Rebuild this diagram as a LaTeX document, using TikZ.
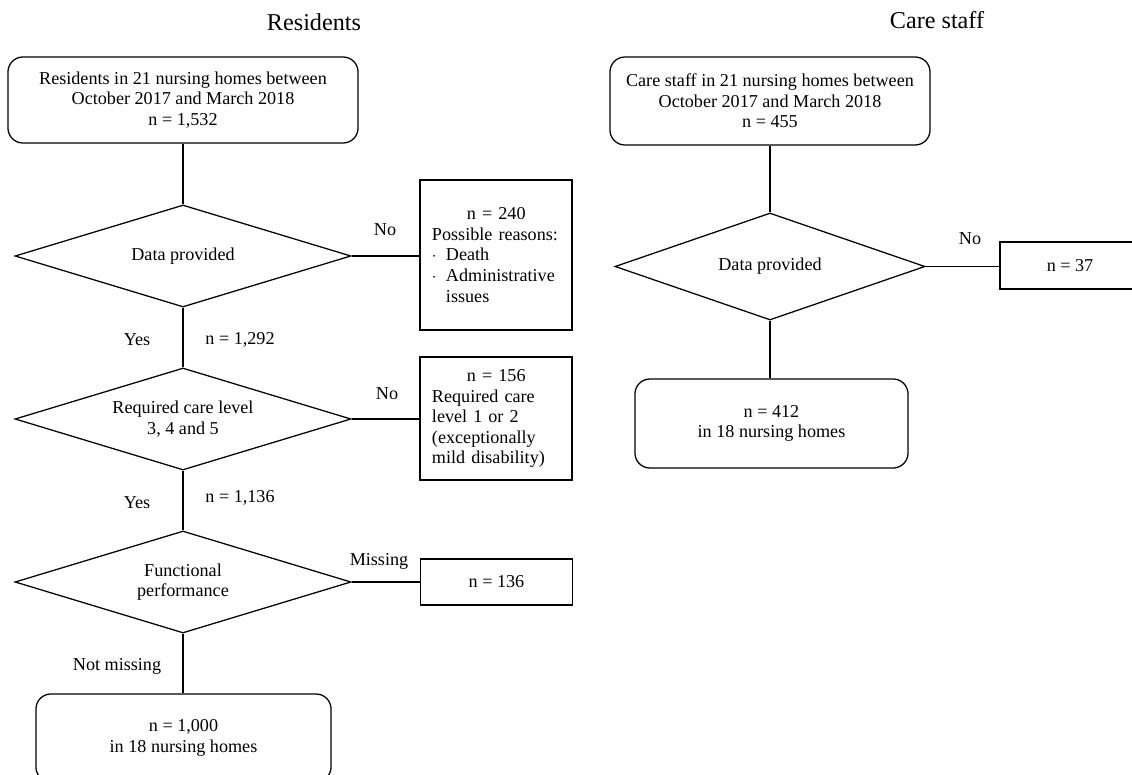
\documentclass[tikz,border=0pt]{standalone}
\usepackage{fontspec}
\setmainfont{Liberation Serif}
\usetikzlibrary{shapes.geometric}

\tikzset{
    every node/.style={font=\fontsize{12.9}{14.6}\selectfont},
    startbox/.style={draw, line width=0.9pt, rounded corners=0.375cm, align=center, inner sep=0pt},
    decision/.style={draw, line width=0.9pt, diamond, shape aspect=3.3, align=center, inner sep=0pt},
    outbox/.style={draw, line width=0.9pt, inner xsep=0.3cm, inner ysep=0pt},
    heading/.style={font=\fontsize{17.2}{20}\selectfont},
    link/.style={line width=0.9pt},
}

\begin{document}
\begin{tikzpicture}[x=0.025cm, y=-0.025cm]
    \useasboundingbox (0,0) rectangle (1132,775);

    % residents
    \node[heading] (tr) at (314, 22) {Residents};
    \node[startbox, minimum width=8.75cm, minimum height=2.15cm] (r1) at (183, 100)
        {Residents in 21 nursing homes between\\October 2017 and March 2018\\n = 1,532};
    \node[decision, minimum width=8.4cm, minimum height=2.55cm] (d1) at (183, 256) {Data provided};
    \node[outbox, text width=3.2cm, align=left, minimum height=3.75cm] (x1) at (496, 255)
        {\hspace*{0.875cm}n = 240\\Possible reasons:\\\makebox[0.35cm][l]{$\cdot$}Death\\
         \makebox[0.35cm][l]{$\cdot$}Administrative\\\hspace*{0.35cm}issues};
    \node[decision, minimum width=8.4cm, minimum height=2.55cm] (d2) at (183, 419)
        {Required care level\\3, 4 and 5};
    \node[outbox, text width=3.2cm, align=left, minimum height=3.075cm] (x2) at (496, 418.5)
        {\hspace*{0.875cm}n = 156\\Required care\\level 1 or 2\\(exceptionally\\mild disability)};
    \node[decision, minimum width=8.4cm, minimum height=2.55cm] (d3) at (183, 582)
        {Functional\\performance};
    \node[outbox, minimum width=3.8cm, minimum height=1.15cm] (x3) at (496.5, 582) {n = 136};
    \node[startbox, minimum width=7.375cm, minimum height=2.2cm] (r2) at (183.5, 738)
        {n = 1,000\\in 18 nursing homes};

    \node (no1) at (385, 230) {No};
    \node (yes1) at (137, 340) {Yes};
    \node (n1) at (240, 340) {n = 1,292};
    \node (no2) at (387, 394) {No};
    \node (yes2) at (137, 503) {Yes};
    \node (n2) at (240, 498) {n = 1,136};
    \node (miss) at (379, 561) {Missing};
    \node (nmiss) at (117, 666) {Not missing};

    \draw[link] (r1.south) -- (d1.north);
    \draw[link] (d1.east) -- (x1.west |- d1.east);
    \draw[link] (d1.south) -- (d2.north);
    \draw[link] (d2.east) -- (x2.west |- d2.east);
    \draw[link] (d2.south) -- (d3.north);
    \draw[link] (d3.east) -- (x3.west |- d3.east);
    \draw[link] (d3.south) -- (r2.north -| d3.south);

    % care staff
    \node[heading] (tc) at (937, 20) {Care staff};
    \node[startbox, minimum width=8cm, minimum height=2.2cm] (c1) at (770, 101)
        {Care staff in 21 nursing homes between\\October 2017 and March 2018\\n = 455};
    \node[decision, minimum width=7.75cm, minimum height=2.675cm] (c2) at (770, 266.5) {Data provided};
    \node[outbox, minimum width=3.5cm, minimum height=1.175cm] (c3) at (1070, 265.5) {n = 37};
    \node[startbox, minimum width=6.825cm, minimum height=2.225cm] (c4) at (771.5, 423.5)
        {n = 412\\in 18 nursing homes};

    \node (no3) at (970, 239) {No};

    \draw[link] (c1.south) -- (c2.north);
    \draw[link] (c2.east) -- (c3.west |- c2.east);
    \draw[link] (c2.south) -- (c4.north -| c2.south);
\end{tikzpicture}
\end{document}
